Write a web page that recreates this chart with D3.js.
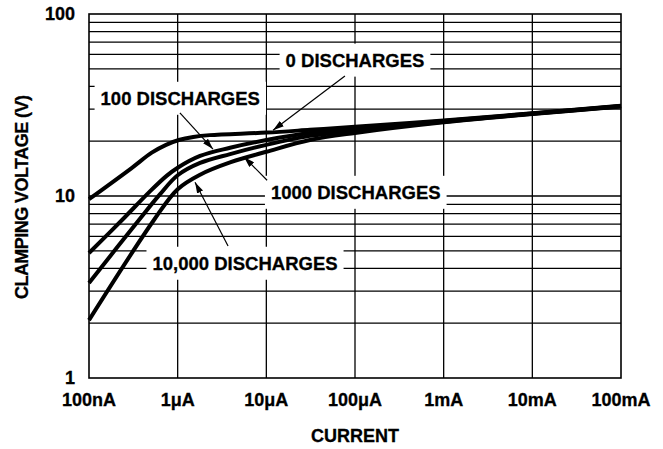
<!DOCTYPE html>
<html>
<head>
<meta charset="utf-8">
<script src="https://cdn.jsdelivr.net/npm/d3@7/dist/d3.min.js"></script>
<style>
  body { margin: 0; background: #fff; }
  svg text { font-family: "Liberation Sans", Arial, Helvetica, sans-serif; font-weight: bold; fill: #000; stroke: #000; stroke-width: 0.3px; }
</style>
</head>
<body>
<svg id="chart" width="663" height="449"></svg>
<script>
// decade ticks on the current axis
var xTicks = [1e-7, 1e-6, 1e-5, 1e-4, 1e-3, 1e-2, 1e-1];
var xTickLabels = ["100nA", "1\u03BCA", "10\u03BCA", "100\u03BCA", "1mA", "10mA", "100mA"];
var yTicks = [1, 10, 100];
var yTickLabels = ["1", "10", "100"];
var yGrid = [2, 3, 4, 5, 6, 7, 8, 9, 10, 20, 30, 40, 50, 60, 70, 80, 90];

// curves (amps, volts)
var current0 = [1e-7, 3e-7, 5.1e-7, 7.4e-7, 1.03e-6, 1.5e-6, 2.3e-6, 1e-5, 3.1e-5, 1e-4, 1e-3, 1e-2, 1e-1];
var volts0 = [9.6, 14.2, 17.3, 19.1, 20.3, 21.1, 21.6, 22.3, 23.1, 24.0, 26.0, 28.5, 31.3];
var current100 = [1e-7, 2.36e-7, 4.87e-7, 7.5e-7, 1e-6, 1.79e-6, 3.9e-6, 1e-5, 3.1e-5, 1e-4, 1e-3, 1e-2, 1e-1];
var volts100 = [4.86, 7.38, 10.6, 12.9, 14.3, 16.6, 18.4, 20.3, 22.2, 23.4, 25.8, 28.4, 31.2];
var current1000 = [1e-7, 3.66e-7, 6.3e-7, 1e-6, 1.79e-6, 3.9e-6, 1e-5, 3.1e-5, 1e-4, 1e-3, 1e-2, 1e-1];
var volts1000 = [3.33, 7.38, 10.2, 13.0, 15.2, 17.0, 19.1, 21.4, 22.8, 25.6, 28.3, 31.1];
var current10000 = [1e-7, 5.4e-7, 1e-6, 1.79e-6, 3.9e-6, 1e-5, 3.1e-5, 1e-4, 1e-3, 1e-2, 1e-1];
var volts10000 = [2.08, 7.38, 10.9, 13.1, 15.3, 17.5, 20.3, 22.2, 25.4, 28.2, 31.0];

// callouts: label anchor and arrow (from -> to), in data units
var labelText = ["0 DISCHARGES", "100 DISCHARGES", "1000 DISCHARGES", "10,000 DISCHARGES"];
var labelAt = [[1e-4, 55.9], [1.07e-6, 34.5], [1.02e-4, 10.5], [5.75e-6, 4.28]];
var arrowFrom = [[7.7e-5, 45.6], [1.06e-6, 28.6], [1.02e-5, 12.2], [3.7e-6, 5.31]];
var arrowTo = [[1.19e-5, 23.0], [2.5e-6, 18.1], [5.6e-6, 16.4], [1.57e-6, 11.9]];

var svg = d3.select("#chart");
var x = d3.scaleLog().domain([1e-7, 1e-1]).range([89, 621]);
var y = d3.scaleLog().domain([1, 100]).range([378, 14]);

// grid
var grid = svg.append("g").attr("stroke", "#000").attr("stroke-width", 1.3);
grid.selectAll("line.v").data(xTicks.slice(1, -1)).enter().append("line")
  .attr("x1", function(d) { return x(d); }).attr("x2", function(d) { return x(d); })
  .attr("y1", y(1)).attr("y2", y(100));
grid.selectAll("line.h").data(yGrid).enter().append("line")
  .attr("x1", x(1e-7)).attr("x2", x(1e-1))
  .attr("y1", function(d) { return y(d); }).attr("y2", function(d) { return y(d); });

// arrowhead
svg.append("defs").append("marker")
  .attr("id", "head").attr("markerUnits", "userSpaceOnUse")
  .attr("viewBox", "0 0 10 6").attr("refX", 10).attr("refY", 3)
  .attr("markerWidth", 11).attr("markerHeight", 7).attr("orient", "auto")
  .append("path").attr("d", "M0,0 L10,3 L0,6 Z").attr("fill", "#000");

// callout labels on white boxes
var labels = svg.append("g");
labelText.forEach(function(t, i) {
  var g = labels.append("g");
  var box = g.append("rect").attr("fill", "#fff");
  var txt = g.append("text")
    .attr("x", x(labelAt[i][0])).attr("y", y(labelAt[i][1]))
    .attr("text-anchor", "middle").attr("dy", "0.36em")
    .style("font-size", "18.5px").text(t);
  var b = txt.node().getBBox();
  box.attr("x", b.x - 6).attr("y", b.y - 6).attr("width", b.width + 12).attr("height", b.height + 12);
});

labels.selectAll("line.arrow").data(arrowFrom).enter().append("line")
  .attr("x1", function(d) { return x(d[0]); }).attr("y1", function(d) { return y(d[1]); })
  .attr("x2", function(d, i) { return x(arrowTo[i][0]); })
  .attr("y2", function(d, i) { return y(arrowTo[i][1]); })
  .attr("stroke", "#000").attr("stroke-width", 1.2)
  .attr("marker-end", "url(#head)");

// curves
var line = d3.line()
  .x(function(d) { return x(d[0]); })
  .y(function(d) { return y(d[1]); })
  .curve(d3.curveCatmullRom.alpha(0.5));
var series = [[current0, volts0], [current100, volts100], [current1000, volts1000], [current10000, volts10000]];
series.forEach(function(s) {
  svg.append("path")
    .attr("d", line(d3.zip(s[0], s[1])))
    .attr("fill", "none").attr("stroke", "#000").attr("stroke-width", 4);
});

// frame
svg.append("rect")
  .attr("x", x(1e-7)).attr("y", y(100))
  .attr("width", x(1e-1) - x(1e-7)).attr("height", y(1) - y(100))
  .attr("fill", "none").attr("stroke", "#000").attr("stroke-width", 1.6);

// tick labels
svg.selectAll("text.xt").data(xTicks).enter().append("text")
  .attr("x", function(d) { return x(d); }).attr("y", 406)
  .attr("text-anchor", "middle").style("font-size", "18px")
  .text(function(d, i) { return xTickLabels[i]; });
svg.selectAll("text.yt").data(yTicks).enter().append("text")
  .attr("x", 75).attr("y", function(d) { return y(d) + 6; })
  .attr("text-anchor", "end").style("font-size", "18px")
  .text(function(d, i) { return yTickLabels[i]; });

// axis titles
svg.append("text").attr("x", 355).attr("y", 442)
  .attr("text-anchor", "middle").style("font-size", "18px").text("CURRENT");
svg.append("text")
  .attr("transform", "translate(28,197) rotate(-90)")
  .attr("text-anchor", "middle").style("font-size", "18px")
  .attr("textLength", 204).attr("lengthAdjust", "spacing")
  .text("CLAMPING VOLTAGE (V)");
</script>
</body>
</html>
